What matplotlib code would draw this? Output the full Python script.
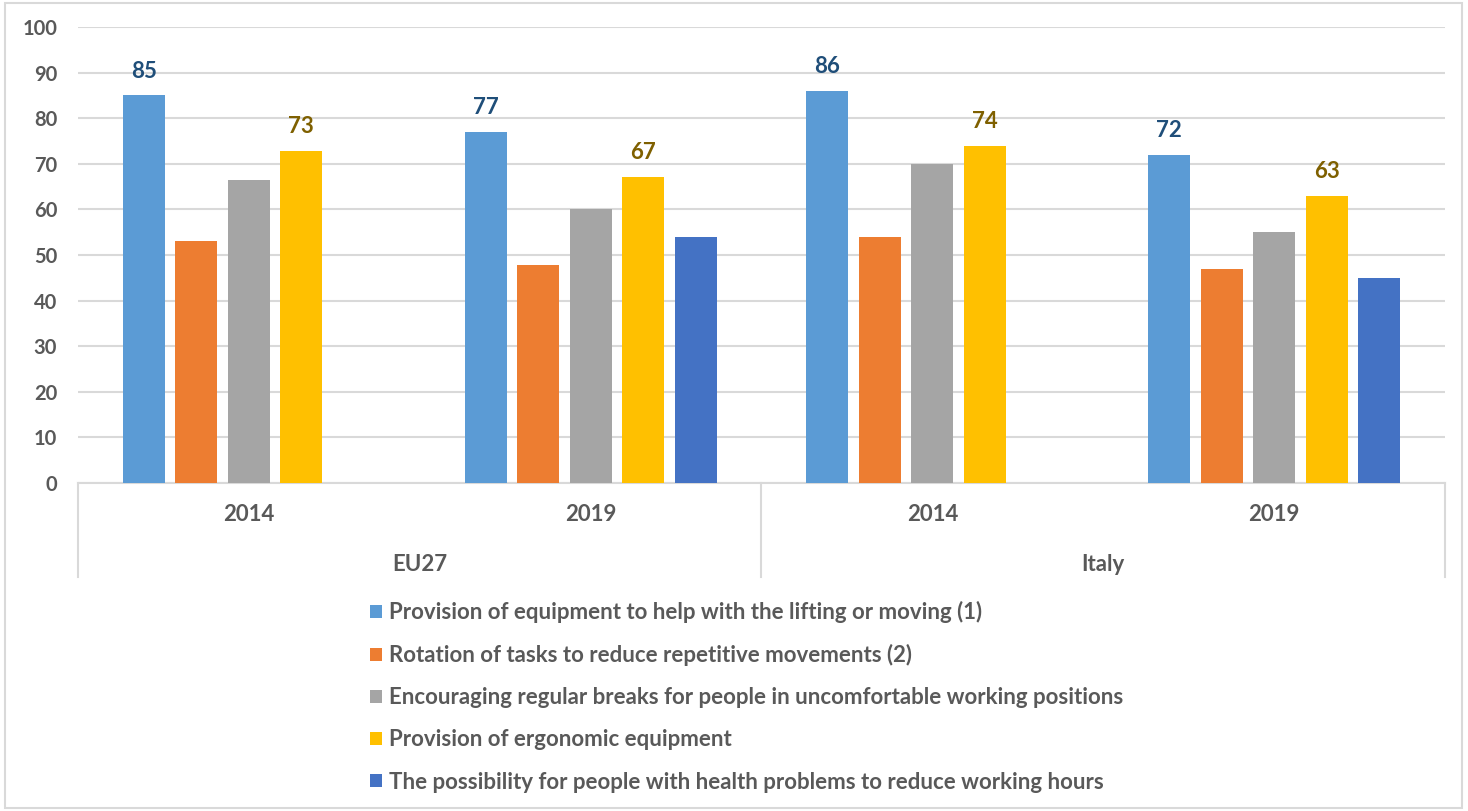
import numpy as np
import matplotlib.pyplot as plt
from matplotlib.patches import Rectangle, Patch
from matplotlib.transforms import blended_transform_factory

# ---- data ----
groups = ["EU27", "Italy"]
years = ["2014", "2019", "2014", "2019"]
series = [
    "Provision of equipment to help with the lifting or moving (1)",
    "Rotation of tasks to reduce repetitive movements (2)",
    "Encouraging regular breaks for people in uncomfortable working positions",
    "Provision of ergonomic equipment",
    "The possibility for people with health problems to reduce working hours",
]
lifting = [85, 77, 86, 72]
rotation = [53, 47.8, 54, 47]
breaks = [66.5, 60, 70, 55]
ergonomic = [72.8, 67.2, 74, 63]
hours = [np.nan, 54, np.nan, 45]

colors = ["#5B9BD5", "#ED7D31", "#A5A5A5", "#FFC000", "#4472C4"]
label_colors = {0: "#1F4E79", 3: "#7F6000"}
txt = "#595959"
grid = "#D9D9D9"

plt.rcParams["font.family"] = ["Lato", "DejaVu Sans"]
plt.rcParams["font.weight"] = "bold"

W, H = 1468, 811
fig = plt.figure(figsize=(W / 100, H / 100), dpi=100)
fig.patches.append(Rectangle((5 / W, 3 / H), 1457 / W, 805 / H, transform=fig.transFigure,
                             fill=False, edgecolor=grid, linewidth=1.5))

ax = fig.add_axes([78 / W, (H - 483) / H, (1445 - 78) / W, 456 / H])
x = np.arange(len(years))
slot = 0.1535
width = 0.123
data = [lifting, rotation, breaks, ergonomic, hours]
for i, vals in enumerate(data):
    vals = np.array(vals, dtype=float)
    ok = ~np.isnan(vals)
    pos = x[ok] + (i - 2) * slot
    bars = ax.bar(pos, vals[ok], width, color=colors[i], zorder=3)
    if i in label_colors:
        for b, v in zip(bars, vals[ok]):
            ax.text(b.get_x() + b.get_width() / 2, v + 3.0, f"{v:.0f}", ha="center", va="bottom",
                    fontsize=16, color=label_colors[i], fontweight="bold")

ax.set_xlim(-0.5, 3.5)
ax.set_ylim(0, 100)
ax.set_yticks(range(0, 101, 10))
ax.yaxis.grid(True, color=grid, linewidth=1.5, zorder=0)
ax.tick_params(axis="y", length=0, labelsize=14.5, labelcolor=txt, pad=15)
ax.set_xticks([])
for s in ["left", "right", "top"]:
    ax.spines[s].set_visible(False)
ax.spines["bottom"].set_color(grid)
ax.spines["bottom"].set_linewidth(1.5)

# multi-level category axis
tr = blended_transform_factory(ax.transData, ax.transAxes)
for xi, yr in zip(x, years):
    ax.text(xi, -0.070, yr, transform=tr, ha="center", va="center", fontsize=16, color=txt)
for gi, g in enumerate(groups):
    ax.text(gi * 2 + 0.5, -0.178, g, transform=tr, ha="center", va="center", fontsize=16, color=txt)
for xs in [-0.5, 1.5, 3.5]:
    ax.plot([xs, xs], [0, -0.206], transform=tr, color=grid, linewidth=1.5, clip_on=False)

# legend
handles = [Patch(facecolor=c) for c in colors]
fig.legend(handles, series, loc="upper left", bbox_to_anchor=(370 / W, (H - 601) / H),
           frameon=False, fontsize=16, labelcolor=txt, handlelength=0.55, handleheight=0.55,
           handletextpad=0.3, labelspacing=0.95, borderpad=0, borderaxespad=0)

fig.savefig("out.png", dpi=100)
